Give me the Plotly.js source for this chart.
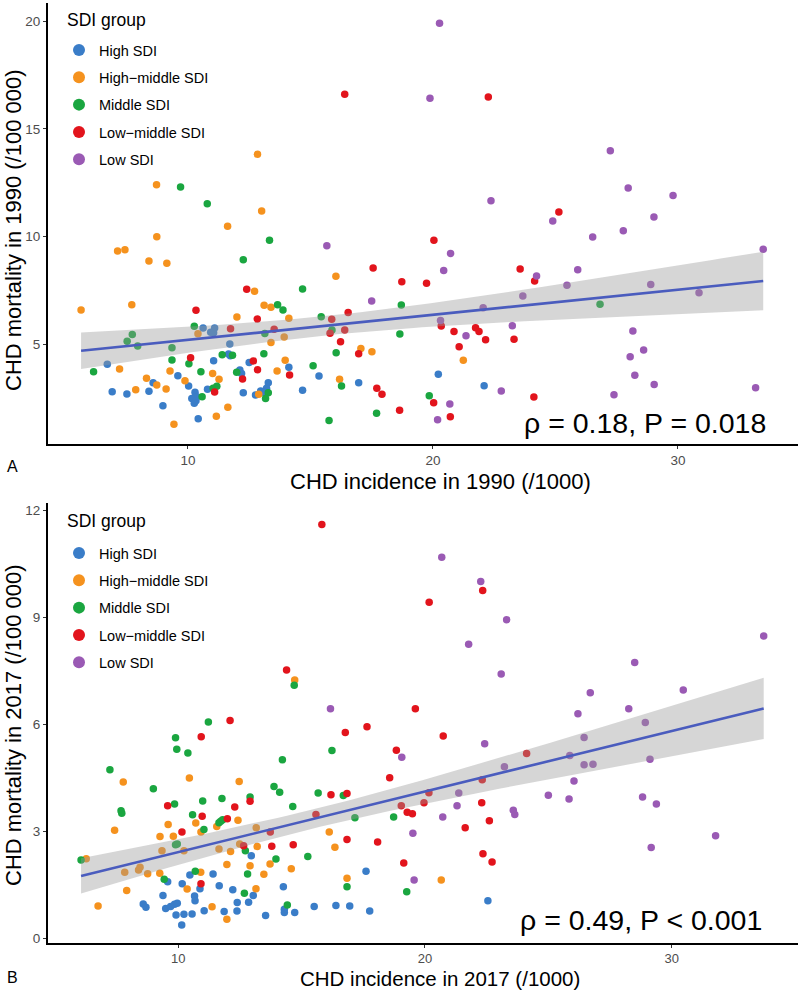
<!DOCTYPE html>
<html>
<head>
<meta charset="utf-8">
<script src="https://cdn.plot.ly/plotly-3.0.1.min.js"></script>
<style>html,body{margin:0;padding:0;background:#fff;}#chart{width:800px;height:991px;}</style>
</head>
<body>
<div id="chart"></div>
<script>
// ---------- Data ----------
const groups = ["High SDI", "High\u2212middle SDI", "Middle SDI", "Low\u2212middle SDI", "Low SDI"];

// Panel A: 1990
const a_high_x = [10.62,11.09,10.93,11.05,11.71,6.71,11.05,11.66,11.73,12.50,12.12,12.19,14.12,9.59,8.58,10.03,13.28,13.21,6.91,7.51,8.41,10.80,10.29,10.36,10.16,10.26,10.33,12.26,12.76,12.97,13.18,8.98,10.42,14.68,15.35,16.97,20.22,22.09,13.05];
const a_high_y = [5.76,5.76,5.56,5.54,5.01,4.07,4.24,4.55,4.47,4.16,3.81,3.65,3.94,3.54,3.22,3.07,3.22,2.96,2.80,2.69,2.82,2.91,2.77,2.57,2.48,2.26,2.38,2.75,2.65,2.83,2.75,2.15,1.55,2.87,3.53,3.22,3.61,3.08,2.77];
const a_hmid_x = [12.84,8.72,13.01,11.62,8.73,7.13,7.43,8.41,9.14,12.72,5.64,7.71,13.11,13.39,12.00,14.12,10.41,13.93,13.39,7.21,9.27,8.31,8.73,7.87,9.11,9.88,11.01,11.27,11.63,11.16,9.43,13.64,13.97,12.89,16.04,17.06,17.51,21.24,16.19];
const a_hmid_y = [13.82,12.41,11.19,10.48,9.99,9.33,9.39,8.87,8.76,7.46,6.59,6.84,6.81,6.72,6.27,6.21,5.49,5.34,5.09,3.85,3.76,3.42,3.11,2.89,2.93,3.31,3.64,3.38,2.08,1.66,1.29,3.76,4.26,2.68,8.16,4.81,4.66,4.26,3.38];
const a_mid_x = [9.70,10.79,13.33,12.26,13.66,13.88,10.26,7.73,7.52,7.95,9.35,13.14,11.40,11.82,13.10,9.35,10.04,6.15,10.53,11.99,11.03,11.18,10.58,13.28,13.17,14.68,18.71,15.44,15.88,18.65,16.05,15.11,16.27,19.85,17.70,15.76,26.82];
const a_mid_y = [12.30,11.52,9.83,8.93,6.84,6.59,5.84,5.46,5.14,4.92,4.84,5.50,4.52,4.49,4.56,4.27,4.10,3.73,3.73,3.70,2.96,3.05,2.57,2.75,2.48,7.57,6.82,6.28,5.66,5.48,4.61,4.01,3.06,2.61,1.80,1.47,6.86];
const a_lmid_x = [16.40,22.26,12.40,10.33,12.83,11.74,13.52,10.11,12.67,12.84,12.23,14.15,11.09,20.04,17.56,18.73,19.74,23.56,24.15,16.54,15.87,16.40,15.80,20.34,20.86,21.74,21.88,22.15,23.31,16.23,21.07,16.97,17.71,17.92,18.64,20.03,20.71,24.12,25.14];
const a_lmid_y = [16.60,16.48,7.55,6.58,6.17,5.72,5.70,4.38,4.23,3.82,3.39,3.58,2.79,9.83,8.54,7.90,7.83,8.49,7.94,6.48,6.16,5.66,5.51,5.85,5.60,5.77,5.60,5.21,5.23,5.12,4.89,4.56,2.96,2.68,1.94,2.29,1.64,2.55,11.14];
const a_low_x = [20.27,19.88,27.24,27.97,29.80,22.37,24.89,29.02,27.77,26.52,33.48,15.67,20.72,20.44,25.91,24.23,25.47,28.89,23.67,30.86,17.50,22.05,20.31,23.24,21.35,28.16,28.05,28.60,28.24,29.03,22.79,27.39,33.17,20.69,20.19];
const a_low_y = [19.90,16.42,13.98,12.25,11.91,11.66,10.72,10.91,10.27,9.98,9.41,9.58,9.22,8.43,8.46,8.17,7.74,7.78,7.24,7.39,7.01,6.70,6.10,5.86,5.40,5.62,4.42,4.74,3.56,3.14,2.83,2.66,2.99,2.23,1.50];
// fitted line shown in panel A: [intercept, slope]
const a_fit = [4.043, 0.1164];

// Panel B: 2017
const b_high_x = [17.61,22.55,14.72,15.51,16.39,16.95,17.76,14.26,14.30,14.30,13.54,12.96,9.57,10.47,10.88,11.41,10.16,11.66,12.21,13.04,10.66,10.68,9.38,8.58,8.69,9.49,9.69,9.85,9.96,11.05,11.86,12.38,12.85,9.91,10.23,10.56,10.14,12.39];
const b_high_y = [1.88,1.05,0.72,0.89,0.92,0.90,0.76,1.44,0.81,0.72,0.64,2.31,1.58,1.77,1.39,1.80,1.53,1.47,1.36,1.20,1.18,1.05,1.20,0.96,0.87,0.83,0.89,0.95,0.98,0.77,0.75,0.76,1.01,0.65,0.67,0.68,0.37,1.00];
const b_hmid_x = [14.72,10.45,7.77,12.47,12.42,9.59,10.71,10.92,11.56,7.42,9.26,9.80,13.16,10.23,9.34,11.65,12.12,12.49,13.20,6.27,7.83,8.39,8.45,8.76,9.25,11.97,12.91,13.72,14.58,13.47,10.91,10.36,13.15,7.91,11.37,6.75,11.97,16.12,16.35,16.84,20.66];
const b_hmid_y = [7.24,4.49,4.38,4.39,3.31,3.19,3.23,2.98,3.13,3.03,2.85,2.86,3.10,2.45,2.45,2.50,2.43,2.64,2.57,2.23,1.85,1.91,1.99,1.81,1.82,2.07,2.03,2.08,1.95,1.79,1.85,1.38,1.39,1.34,0.88,0.90,0.53,2.98,2.55,1.68,1.63];
const b_mid_x = [14.70,11.22,9.89,9.94,10.39,7.23,14.22,8.99,13.88,14.11,14.64,7.68,7.71,9.85,10.99,11.77,12.91,10.58,11.65,11.72,11.80,11.04,9.89,9.96,12.72,6.06,13.96,10.69,12.81,9.43,12.68,14.42,16.23,15.67,16.69,17.16,18.73,15.25,16.84,19.26];
const b_mid_y = [7.09,6.06,5.62,5.30,5.19,4.72,5.00,4.19,4.25,4.09,3.69,3.57,3.50,3.76,3.85,3.92,3.96,3.46,3.24,3.28,3.32,3.05,2.62,2.64,2.45,2.19,2.22,1.88,1.80,1.65,1.26,0.93,5.26,4.07,4.00,3.38,3.40,2.29,1.44,1.30];
const b_lmid_x = [15.82,14.39,12.10,10.93,16.77,17.65,20.17,20.74,22.34,19.61,9.57,12.29,12.91,10.97,11.99,10.15,13.73,12.65,13.79,14.66,10.92,18.84,24.12,18.57,22.32,16.19,16.84,20.16,15.58,19.04,19.96,22.30,19.28,19.49,22.61,21.63,16.84,18.08,19.14,22.35,22.72];
const b_lmid_y = [11.60,7.52,6.10,5.65,5.77,5.93,9.42,5.67,9.75,6.43,3.71,3.68,3.84,3.42,3.35,2.98,2.98,2.59,2.58,2.62,1.53,5.27,5.18,4.50,4.44,4.02,4.06,4.08,3.47,3.71,3.80,3.80,3.53,3.49,3.29,3.10,2.77,2.70,2.11,2.37,2.14];
const b_low_x = [20.68,22.26,23.31,21.77,33.73,23.09,28.50,30.47,26.70,26.20,28.26,28.93,16.17,26.45,22.42,19.06,25.87,26.45,26.81,29.12,23.22,26.04,21.37,25.00,25.84,28.82,29.38,21.30,23.58,23.64,20.72,19.51,31.78,29.17,19.56];
const b_low_y = [10.68,10.00,8.93,8.24,8.47,7.41,7.73,6.96,6.88,6.29,6.43,6.05,6.43,5.63,5.45,5.07,5.12,4.86,4.88,5.02,4.81,4.41,4.07,4.01,3.90,3.96,3.76,3.71,3.59,3.47,3.40,2.94,2.87,2.54,1.63];
// fitted line shown in panel B: [intercept, slope]
const b_fit = [0.718, 0.1697];

const statA = "\u03c1 = 0.18, P = 0.018";
const statB = "\u03c1 = 0.49, P < 0.001";

// ---------- Styling ----------
const colors = ["#3A7DC8", "#F5921E", "#1AA640", "#E2141C", "#9A5AB4"];
const FONT = "Liberation Sans, Arial, Helvetica, sans-serif";

const panelA = [[a_high_x,a_high_y],[a_hmid_x,a_hmid_y],[a_mid_x,a_mid_y],[a_lmid_x,a_lmid_y],[a_low_x,a_low_y]];
const panelB = [[b_high_x,b_high_y],[b_hmid_x,b_hmid_y],[b_mid_x,b_mid_y],[b_lmid_x,b_lmid_y],[b_low_x,b_low_y]];

// Line from the fitted coefficients; 95% confidence band from the data spread
function fitBand(panel, coef) {
  const xs = [], ys = [];
  panel.forEach(p => { xs.push(...p[0]); ys.push(...p[1]); });
  const n = xs.length;
  const mx = xs.reduce((a,b)=>a+b,0)/n;
  let sxx=0; for (let i=0;i<n;i++){ sxx+=(xs[i]-mx)**2; }
  const a = coef[0], b = coef[1];
  let sse=0; for (let i=0;i<n;i++){ sse+=(ys[i]-a-b*xs[i])**2; }
  const s = Math.sqrt(sse/(n-2)), t = 1.973;
  const xmin = Math.min(...xs), xmax = Math.max(...xs);
  const gx=[], gy=[], up=[], lo=[];
  for (let k=0;k<=80;k++){
    const x = xmin + (xmax-xmin)*k/80;
    const y = a + b*x;
    const se = s*Math.sqrt(1/n + (x-mx)**2/sxx);
    gx.push(x); gy.push(y); up.push(y+t*se); lo.push(y-t*se);
  }
  return {gx, gy, up, lo};
}

const traces = [];
function addPanel(panel, coef, xa, ya, legendId) {
  panel.forEach((p, i) => {
    traces.push({
      type: "scatter", mode: "markers", x: p[0], y: p[1],
      xaxis: xa, yaxis: ya, name: groups[i], legend: legendId,
      legendgroup: legendId + i,
      marker: {color: colors[i], size: 7.5},
      hoverinfo: "x+y+name"
    });
  });
  const f = fitBand(panel, coef);
  traces.push({
    type: "scatter", mode: "lines", x: f.gx.concat(f.gx.slice().reverse()),
    y: f.up.concat(f.lo.slice().reverse()), fill: "toself",
    fillcolor: "rgba(153,153,153,0.4)", line: {width: 0}, xaxis: xa, yaxis: ya,
    showlegend: false, hoverinfo: "skip"
  });
  traces.push({
    type: "scatter", mode: "lines", x: f.gx, y: f.gy, xaxis: xa, yaxis: ya,
    line: {color: "#4A5CBE", width: 2.6}, showlegend: false, hoverinfo: "skip"
  });
}
addPanel(panelA, a_fit, "x", "y", "legend");
addPanel(panelB, b_fit, "x2", "y2", "legend2");

const W = 800, H = 991;
const px = v => v / W, py = v => 1 - v / H;

const axBase = {
  showline: true, linecolor: "#000", linewidth: 1.6, mirror: false,
  showgrid: false, zeroline: false, ticks: "outside", ticklen: 3.5,
  tickwidth: 1, tickcolor: "#333",
  tickfont: {family: FONT, size: 13.5, color: "#4D4D4D"}, fixedrange: true
};

const legBase = {
  xanchor: "left", yanchor: "top", bgcolor: "rgba(0,0,0,0)",
  font: {family: FONT, size: 14.5, color: "#000"},
  tracegroupgap: 5.5, itemsizing: "constant", traceorder: "grouped"
};

const ann = (text, x, y, size, extra) => Object.assign({
  text: text, xref: "paper", yref: "paper", x: px(x), y: py(y), showarrow: false,
  xanchor: "center", yanchor: "middle", font: {family: FONT, size: size, color: "#000"}
}, extra || {});

const layout = {
  width: W, height: H, margin: {l: 0, r: 0, t: 0, b: 0},
  paper_bgcolor: "#fff", plot_bgcolor: "#fff", showlegend: true,
  font: {family: FONT},
  xaxis: Object.assign({}, axBase, {domain: [px(48), px(798)], range: [4.29, 34.90], tickvals: [10,20,30], anchor: "y"}),
  yaxis: Object.assign({}, axBase, {domain: [py(444), py(3)], range: [0.374, 20.84], tickvals: [5,10,15,20], anchor: "x"}),
  xaxis2: Object.assign({}, axBase, {domain: [px(48), px(798)], range: [4.72, 35.12], tickvals: [10,20,30], anchor: "y2",
    ticklen: 3, tickfont: {family: FONT, size: 13, color: "#4D4D4D"}}),
  yaxis2: Object.assign({}, axBase, {domain: [py(943), py(503)], range: [-0.134, 12.20], tickvals: [0,3,6,9,12], anchor: "x2"}),
  legend: Object.assign({}, legBase, {x: px(59), y: py(34)}),
  legend2: Object.assign({}, legBase, {x: px(59), y: py(537)}),
  annotations: [
    ann("SDI group", 65, 20, 17.5, {xanchor: "left"}),
    ann("SDI group", 65, 521, 17.5, {xanchor: "left"}),
    ann("CHD incidence in 1990 (/1000)", 440, 481, 22),
    ann("CHD incidence in 2017 (/1000)", 440, 978.5, 20.5),
    ann("CHD mortality in 1990 (/100 000)", 13, 230, 22, {textangle: -90}),
    ann("CHD mortality in 2017 (/100 000)", 13, 725, 22, {textangle: -90}),
    ann("A", 12, 466, 16),
    ann("B", 12, 977, 16),
    ann(statA, 768, 423, 28.5, {xanchor: "right"}),
    ann(statB, 764, 920, 28.5, {xanchor: "right"})
  ]
};

Plotly.newPlot("chart", traces, layout, {displayModeBar: false, staticPlot: true});
</script>
</body>
</html>
